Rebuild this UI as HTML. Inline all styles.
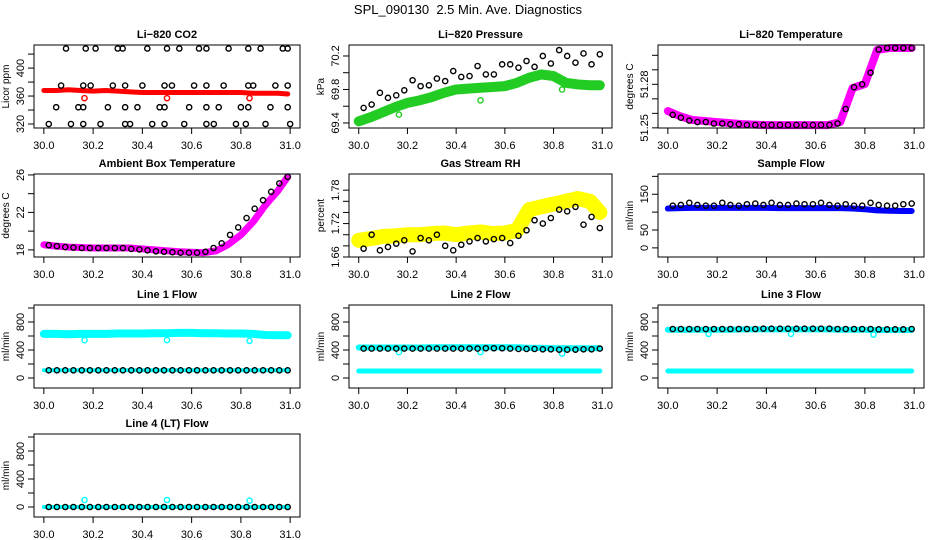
<!DOCTYPE html>
<html><head><meta charset="utf-8"><style>
html,body{margin:0;padding:0;background:#fff}
svg{display:block}
text{font-family:"Liberation Sans",sans-serif}
</style></head><body>
<svg id="c" width="936" height="540" viewBox="0 0 936 540" xmlns="http://www.w3.org/2000/svg">
<text x="468" y="14" text-anchor="middle" font-size="13">SPL_090130&#160; 2.5 Min. Ave. Diagnostics</text>
</svg>
<script>
// ---- data ----
const bandT=[30.0,30.05,30.1,30.15,30.2,30.25,30.3,30.35,30.4,30.45,30.5,30.55,30.6,30.65,30.7,30.75,30.8,30.85,30.9,30.95,30.99];
const markT=[30.02,30.053,30.087,30.12,30.154,30.187,30.221,30.254,30.288,30.321,30.355,30.388,30.421,30.455,30.488,30.522,30.555,30.589,30.622,30.656,30.689,30.722,30.756,30.789,30.823,30.856,30.89,30.923,30.956,30.99];
const outT=[30.165,30.5,30.835];
// CO2
const co2Band=[368,368,369,368,367,368,367,366,365,365,365,365,365,365,365,365,365,364,364,364,363];
const co2Out=[357,357,357];
const co2HiT=[30.09,30.17,30.21,30.30,30.32,30.42,30.50,30.55,30.63,30.66,30.75,30.83,30.88,30.97,30.99];
const co2Hi=[428,428,428,428,428,428,428,428,428,428,428,428,428,428,428];
const co2MidT=[30.07,30.16,30.19,30.28,30.33,30.40,30.49,30.52,30.61,30.66,30.73,30.83,30.85,30.94,30.99];
const co2Mid=[375,375,375,375,375,375,375,375,375,375,375,375,375,375,375];
const co2LowT=[30.05,30.14,30.16,30.26,30.33,30.38,30.47,30.49,30.59,30.66,30.71,30.80,30.83,30.92,30.99];
const co2Low=[344,344,344,344,344,344,344,344,344,344,344,344,344,344,344];
const co2MinT=[30.02,30.11,30.16,30.23,30.33,30.35,30.44,30.49,30.57,30.66,30.69,30.78,30.82,30.90,31.00];
const co2Min=[320,320,320,320,320,320,320,320,320,320,320,320,320,320,320];
// Pressure
const presBand=[69.42,69.47,69.53,69.59,69.64,69.67,69.71,69.76,69.80,69.81,69.82,69.83,69.84,69.88,69.94,69.98,69.96,69.88,69.86,69.85,69.85];
const presPts=[69.58,69.62,69.76,69.70,69.73,69.79,69.91,69.84,69.85,69.93,69.90,70.02,69.95,69.96,70.08,69.98,69.98,70.10,70.10,70.06,70.14,70.07,70.20,70.11,70.27,70.20,70.12,70.23,70.10,70.22];
const presOut=[69.5,69.67,69.8];
// Li-820 temperature
const tempBand=[51.2616,51.258,51.2554,51.2547,51.254,51.2533,51.2526,51.2522,51.2519,51.2519,51.2519,51.2519,51.2519,51.2519,51.254,51.2774,51.2802,51.3037,51.305,51.305,51.305];
const tempPts=[51.259,51.257,51.255,51.254,51.254,51.253,51.253,51.2525,51.2525,51.252,51.252,51.252,51.252,51.252,51.252,51.252,51.252,51.252,51.252,51.252,51.253,51.263,51.278,51.280,51.288,51.304,51.305,51.305,51.305,51.305];
// Ambient
const ambBand=[18.55,18.4,18.3,18.25,18.2,18.2,18.2,18.2,18.1,18.0,17.9,17.8,17.75,17.7,17.9,18.6,19.6,21.0,22.8,24.3,25.8];
const ambPts=[18.5,18.4,18.3,18.25,18.2,18.2,18.2,18.2,18.2,18.2,18.1,18.05,17.95,17.85,17.8,17.75,17.7,17.7,17.7,17.8,18.2,18.7,19.6,20.4,21.4,22.4,23.3,24.2,25.1,25.8];
// RH
const rhBand=[1.690,1.693,1.697,1.698,1.700,1.700,1.702,1.703,1.700,1.703,1.705,1.702,1.703,1.708,1.745,1.750,1.755,1.760,1.765,1.760,1.740];
const rhPts=[1.675,1.700,1.672,1.678,1.684,1.690,1.670,1.694,1.690,1.700,1.680,1.672,1.682,1.688,1.694,1.688,1.692,1.694,1.685,1.698,1.708,1.726,1.720,1.730,1.745,1.742,1.750,1.718,1.732,1.712];
// Sample flow
const sfBand=[110,111,112,112,112,112,112,112,112,111,111,111,111,111,111,110,108,105,104,103,103];
const sfPts=[118,120,126,120,118,118,126,120,118,122,124,120,126,120,120,124,122,122,126,120,118,122,118,118,126,120,118,118,122,124];
// Line flows
const l1High=[630,630,625,630,630,630,635,635,635,640,640,645,645,640,640,635,635,630,615,610,610];
const l1Low=[110,110,110,110,110,110,110,110,110,110,110,110,110,110,110,110,110,110,110,110,110];
const l1Pts=[110,110,110,110,110,110,110,110,110,110,110,110,110,110,110,110,110,110,110,110,110,110,110,110,110,110,110,110,110,110];
const l1Out=[540,540,530];
const l2High=[435,435,435,435,435,435,440,440,440,440,440,440,440,440,430,430,425,425,425,425,425];
const l2Low=[100,100,100,100,100,100,100,100,100,100,100,100,100,100,100,100,100,100,100,100,100];
const l2Pts=[420,420,420,420,420,420,420,420,420,420,420,420,420,420,420,425,425,425,420,415,415,415,410,410,405,405,405,410,410,420];
const l2Out=[370,370,350];
const l3High=[690,690,690,690,690,690,695,695,695,695,695,695,695,695,690,690,690,685,685,685,685];
const l3Low=[100,100,100,100,100,100,100,100,100,100,100,100,100,100,100,100,100,100,100,100,100];
const l3Pts=[700,700,700,700,700,700,700,700,700,700,700,705,705,705,705,705,705,705,705,705,700,700,700,700,700,695,695,695,695,700];
const l3Out=[630,630,620];
const l4Band=[0,0,0,0,0,0,0,0,0,0,0,0,0,0,0,0,0,0,0,0,0];
const l4Pts=[0,0,0,0,0,0,0,0,0,0,0,0,0,0,0,0,0,0,0,0,0,0,0,0,0,0,0,0,0,0];
const l4Out=[100,100,90];
const xTicks=[30.0,30.2,30.4,30.6,30.8,31.0];

// ---- drawing ----
const svg=document.getElementById('c');
const NS='http://www.w3.org/2000/svg';
function el(tag,parent){const e=document.createElementNS(NS,tag);parent.appendChild(e);return e;}
const cols=[[34,300],[349,612],[658,924]];
const rows=[45,174,305,434];
const H=83;
function makePanel(name,title,col,row,ymin,ymax,yticks,ylabels,ylab){
  const [L,R]=cols[col];const T=rows[row];const B=T+H;
  const g=el('g',svg);
  
  
  const p={g,L,R,T,B,
    x:v=>L+(v-29.96)/(1.08)*(R-L),
    y:v=>B-(v-ymin)/(ymax-ymin)*H};
  const t=el('text',g);t.textContent=title;
  t.setAttribute('x',(L+R)/2);t.setAttribute('y',T-7);t.setAttribute('text-anchor','middle');
  t.setAttribute('font-size','11');t.setAttribute('font-weight','bold');
  
  
  const ax=el('g',g);
  
  
  xTicks.forEach(v=>{
    const X=p.x(v);
    const l=el('line',ax);l.setAttribute('x1',X);l.setAttribute('x2',X);l.setAttribute('y1',B);l.setAttribute('y2',B+6);l.setAttribute('stroke','#000');
    const tx=el('text',ax);tx.textContent=v.toFixed(1);tx.setAttribute('x',X);tx.setAttribute('y',B+21);tx.setAttribute('text-anchor','middle');tx.setAttribute('font-size','11');
  });
  const ay=el('g',g);
  
  
  yticks.forEach((v,i)=>{
    const Y=p.y(v);
    const l=el('line',ay);l.setAttribute('x1',L-6);l.setAttribute('x2',L);l.setAttribute('y1',Y);l.setAttribute('y2',Y);l.setAttribute('stroke','#000');
    if(ylabels[i]){const tx=el('text',ay);tx.textContent=ylabels[i];
      tx.setAttribute('transform','translate('+(L-10)+','+Y+') rotate(-90)');tx.setAttribute('text-anchor','middle');tx.setAttribute('font-size','11');}
  });
  const yl=el('text',g);yl.textContent=ylab;
  yl.setAttribute('transform','translate('+(L-25)+','+(T+H/2)+') rotate(-90)');yl.setAttribute('text-anchor','middle');yl.setAttribute('font-size','10');
  
  
  p.plot=el('g',g);
  
  
  setTimeout(()=>{const r=el('rect',g);r.setAttribute('x',L);r.setAttribute('y',T);r.setAttribute('width',R-L);r.setAttribute('height',H);r.setAttribute('fill','none');r.setAttribute('stroke','#000');
    
    },0);
  return p;
}
function band(p,xs,ys,color,w,name){
  const pl=el('polyline',p.plot);
  pl.setAttribute('points',xs.map((v,i)=>p.x(v)+','+p.y(ys[i])).join(' '));
  pl.setAttribute('fill','none');pl.setAttribute('stroke',color);pl.setAttribute('stroke-width',w);
  pl.setAttribute('stroke-linejoin','round');pl.setAttribute('stroke-linecap','round');
  
  
}
function pts(p,xs,ys,color,name){
  const g=el('g',p.plot);
  
  
  xs.forEach((v,i)=>{const c=el('circle',g);c.setAttribute('cx',p.x(v));c.setAttribute('cy',p.y(ys[i]));c.setAttribute('r',2.6);
    c.setAttribute('fill','none');c.setAttribute('stroke',color);c.setAttribute('stroke-width',1.4);});
}
let p;
p=makePanel('co2','Li\u2212820 CO2',0,0,314.3,433,[320,340,360,380,400,420],['320','','360','','400',''],'Licor ppm');
band(p,bandT,co2Band,'#ff0000',5,'co2-band');pts(p,outT,co2Out,'#ff0000','co2-outliers');
pts(p,co2HiT,co2Hi,'#000','co2-points-high');pts(p,co2MidT,co2Mid,'#000','co2-points-mid');
pts(p,co2LowT,co2Low,'#000','co2-points-low');pts(p,co2MinT,co2Min,'#000','co2-points-min');

p=makePanel('pressure','Li\u2212820 Pressure',1,0,69.34,70.331,[69.4,69.6,69.8,70.0,70.2],['69.4','','69.8','','70.2'],'kPa');
band(p,bandT,presBand,'#22cc22',10,'pressure-band');pts(p,outT,presOut,'#22cc22','pressure-outliers');pts(p,markT,presPts,'#000','pressure-points');

p=makePanel('li820-temp','Li\u2212820 Temperature',2,0,51.2499,51.3071,[51.25,51.26,51.27,51.28,51.29,51.30],['51.25','','','51.28','',''],'degrees C');
band(p,bandT,tempBand,'#ff00ff',8,'li820-temp-band');pts(p,markT,tempPts,'#000','li820-temp-points');

p=makePanel('ambient','Ambient Box Temperature',0,1,17.24,26.1,[18,20,22,24,26],['18','','22','','26'],'degrees C');
band(p,bandT,ambBand,'#ff00ff',7,'ambient-band');pts(p,markT,ambPts,'#000','ambient-points');

p=makePanel('rh','Gas Stream RH',1,1,1.66,1.809,[1.66,1.68,1.70,1.72,1.74,1.76,1.78],['1.66','','','1.72','','','1.78'],'percent');
band(p,bandT,rhBand,'#ffff00',15,'rh-band');pts(p,markT,rhPts,'#000','rh-points');

p=makePanel('sample-flow','Sample Flow',2,1,-25.5,206.6,[0,50,100,150,200],['0','50','','150',''],'ml/min');
band(p,bandT,sfBand,'#0000ff',6,'sample-flow-band');pts(p,markT,sfPts,'#000','sample-flow-points');

const fy=[0,200,400,600,800,1000],fl=['0','','400','','800',''];
p=makePanel('line1','Line 1 Flow',0,2,-142.9,1043,fy,fl,'ml/min');
band(p,bandT,l1High,'#00ffff',8,'line1-high-band');band(p,bandT,l1Low,'#00ffff',4,'line1-low-band');
pts(p,outT,l1Out,'#00ffff','line1-outliers');pts(p,markT,l1Pts,'#000','line1-points');

p=makePanel('line2','Line 2 Flow',1,2,-142.9,1043,fy,fl,'ml/min');
band(p,bandT,l2High,'#00ffff',6,'line2-high-band');band(p,bandT,l2Low,'#00ffff',5,'line2-low-band');
pts(p,outT,l2Out,'#00ffff','line2-outliers');pts(p,markT,l2Pts,'#000','line2-points');

p=makePanel('line3','Line 3 Flow',2,2,-142.9,1043,fy,fl,'ml/min');
band(p,bandT,l3High,'#00ffff',6,'line3-high-band');band(p,bandT,l3Low,'#00ffff',5,'line3-low-band');
pts(p,outT,l3Out,'#00ffff','line3-outliers');pts(p,markT,l3Pts,'#000','line3-points');

p=makePanel('line4','Line 4 (LT) Flow',0,3,-142.9,1043,fy,fl,'ml/min');
band(p,bandT,l4Band,'#00ffff',4,'line4-band');
pts(p,outT,l4Out,'#00ffff','line4-outliers');pts(p,markT,l4Pts,'#000','line4-points');
</script>
</body></html>
